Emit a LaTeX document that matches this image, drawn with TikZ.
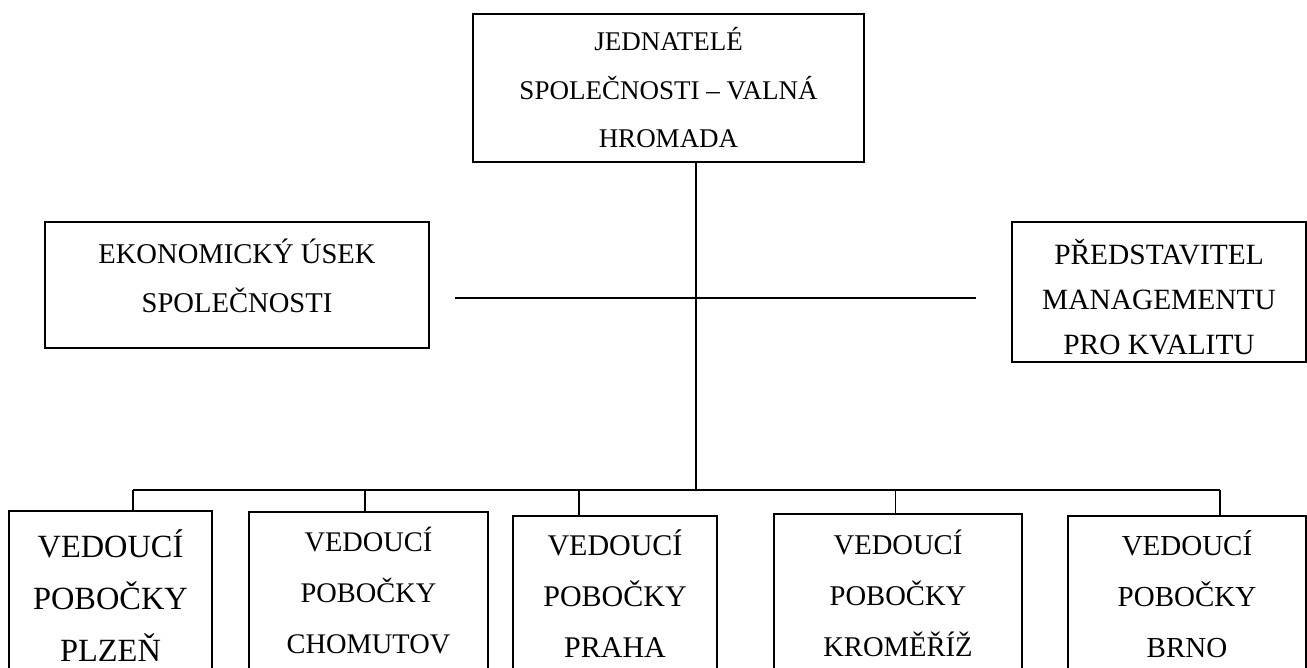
\documentclass[tikz,border=0pt]{standalone}
\usepackage{fontspec}
\setmainfont{Liberation Serif}
\usepackage{tikz}

\tikzset{
	box/.style={draw, line width=0.9pt, align=center, inner sep=0pt},
	link/.style={line width=0.9pt}
}

\begin{document}
\begin{tikzpicture}[x=0.5pt, y=-0.5pt]
	\useasboundingbox (0,0) rectangle (1307,668);
	\begin{scope}
	  \clip (0,0) rectangle (1307,668);

	  \node[box, minimum width=195.5pt, minimum height=74pt, font=\fontsize{13.5}{24.25}\selectfont] (boss) at (668.5,88) {JEDNATELÉ\\SPOLEČNOSTI – VALNÁ\\HROMADA};
	  \node[box, minimum width=192pt, minimum height=63pt, font=\fontsize{14.3}{24.5}\selectfont] (ekon) at (237,285) {EKONOMICKÝ ÚSEK\\SPOLEČNOSTI\rule[-9pt]{0pt}{9pt}};
	  \node[box, minimum width=147pt, minimum height=70pt, font=\fontsize{14.7}{22.5}\selectfont] (kval) at (1159,292) {\rule{0pt}{17.5pt}PŘEDSTAVITEL\\MANAGEMENTU\\PRO KVALITU};

	  \node[box, minimum width=101.5pt, minimum height=85pt, font=\fontsize{16.2}{26}\selectfont] (plzen) at (110.5,596) {VEDOUCÍ\\POBOČKY\\PLZEŇ};
	  \node[box, minimum width=119.5pt, minimum height=79pt, font=\fontsize{14.2}{25.5}\selectfont] (chomutov) at (368.5,591) {VEDOUCÍ\\POBOČKY\\CHOMUTOV};
	  \node[box, minimum width=102pt, minimum height=78pt, font=\fontsize{15}{25.5}\selectfont] (praha) at (615,594) {VEDOUCÍ\\POBOČKY\\PRAHA};
	  \node[box, minimum width=124pt, minimum height=79pt, font=\fontsize{14.3}{25.5}\selectfont] (kromeriz) at (898,593) {VEDOUCÍ\\POBOČKY\\KROMĚŘÍŽ};
	  \node[box, minimum width=119pt, minimum height=78pt, font=\fontsize{14.5}{25.5}\selectfont] (brno) at (1187,594) {VEDOUCÍ\\POBOČKY\\BRNO};

	  \coordinate (hub) at (696,490);
	  \coordinate (midL) at (455,298);
	  \coordinate (midR) at (976,298);
	  \coordinate (b1) at (133,490);
	  \coordinate (b2) at (365,490);
	  \coordinate (b3) at (579,490);
	  \coordinate (b4) at (895.5,490);
	  \coordinate (b5) at (1220,490);

	  \draw[link] (boss.south -| hub) -- (hub);
	  \draw[link] (midL) -- (midR);
	  \draw[link] (b1) -- (b5);
	  \draw[link] (b1) -- (b1 |- plzen.north);
	  \draw[link] (b2) -- (b2 |- chomutov.north);
	  \draw[link] (b3) -- (b3 |- praha.north);
	  \draw[link] (b4) -- (b4 |- kromeriz.north);
	  \draw[link] (b5) -- (b5 |- brno.north);
	\end{scope}
\end{tikzpicture}
\end{document}
